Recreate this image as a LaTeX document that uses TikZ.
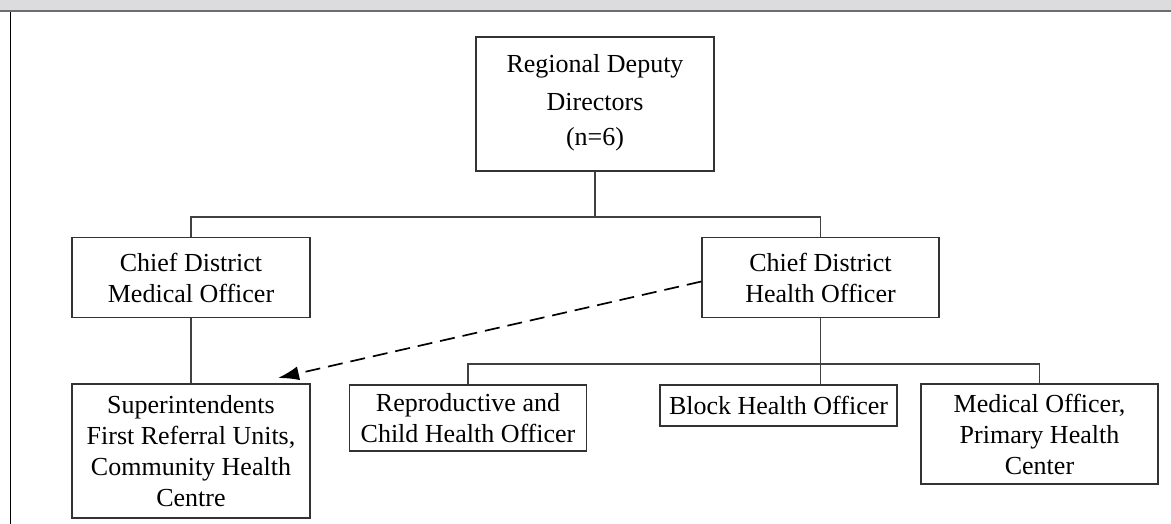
\documentclass[tikz,border=0pt]{standalone}
\usepackage{fontspec}
\setmainfont{Liberation Serif}
\usetikzlibrary{arrows.meta,positioning}
\definecolor{barfill}{HTML}{DCDCDE}
\definecolor{barline}{HTML}{6E6E70}
\tikzset{
    post/.style={draw=black!80, line width=1.2pt, align=center, inner sep=2pt,
        font=\fontsize{26}{31}\selectfont},
    link/.style={draw=black!75, line width=1.1pt},
}
\begin{document}
\begin{tikzpicture}[x=1pt, y=-1pt]
    \useasboundingbox (0,0) rectangle (1171,524);
    % header strip and frame
    \fill[barfill] (0,0) rectangle (1171,10);
    \draw[barline, line width=2.2pt] (0,11) -- (1171,11);
    \draw[black, line width=1.2pt] (10.5,12) -- (10.5,524);
    % boxes
    \node[post, minimum width=238pt, minimum height=134pt] (root) at (595,104)
        {Regional Deputy\\[7pt] Directors\\[4pt] (n=6)\\[-23pt]};
    \node[post, minimum width=238pt, minimum height=80pt] (cdmo) at (191,277.5)
        {Chief District\\ Medical Officer};
    \node[post, minimum width=237pt, minimum height=80pt] (cdho) at (820.5,277.5)
        {Chief District\\ Health Officer};
    \node[post, minimum width=238pt, minimum height=134pt] (sup) at (191,451)
        {Superintendents\\ First Referral Units,\\ Community Health\\ Centre};
    \node[post, minimum width=237pt, minimum height=66pt] (rch) at (468,418)
        {Reproductive and\\ Child Health Officer};
    \node[post, minimum width=237pt, minimum height=41pt] (bho) at (778.5,405.5)
        {Block Health Officer};
    \node[post, minimum width=237pt, minimum height=100pt] (mo) at (1039.5,434)
        {Medical Officer,\\ Primary Health\\ Center};
    % tree lines
    \coordinate (bar1) at (595,217);
    \coordinate (bar2) at (820.5,364);
    \draw[link] (root.south) -- (bar1);
    \draw[link] (cdmo.north) |- (bar1) -| (cdho.north);
    \draw[link] (cdmo.south) -- (sup.north);
    \draw[link] (cdho.south) -- (cdho.south |- bho.north);
    \draw[link] (rch.north) |- (bar2) -| (mo.north);
    % dashed report line
    \coordinate (tip) at (278,378);
    \draw[black, line width=1.7pt, dash pattern=on 15pt off 8pt,
        -{Latex[length=21pt,width=14pt]}] ([yshift=-4pt]cdho.west) -- (tip);
\end{tikzpicture}
\end{document}
